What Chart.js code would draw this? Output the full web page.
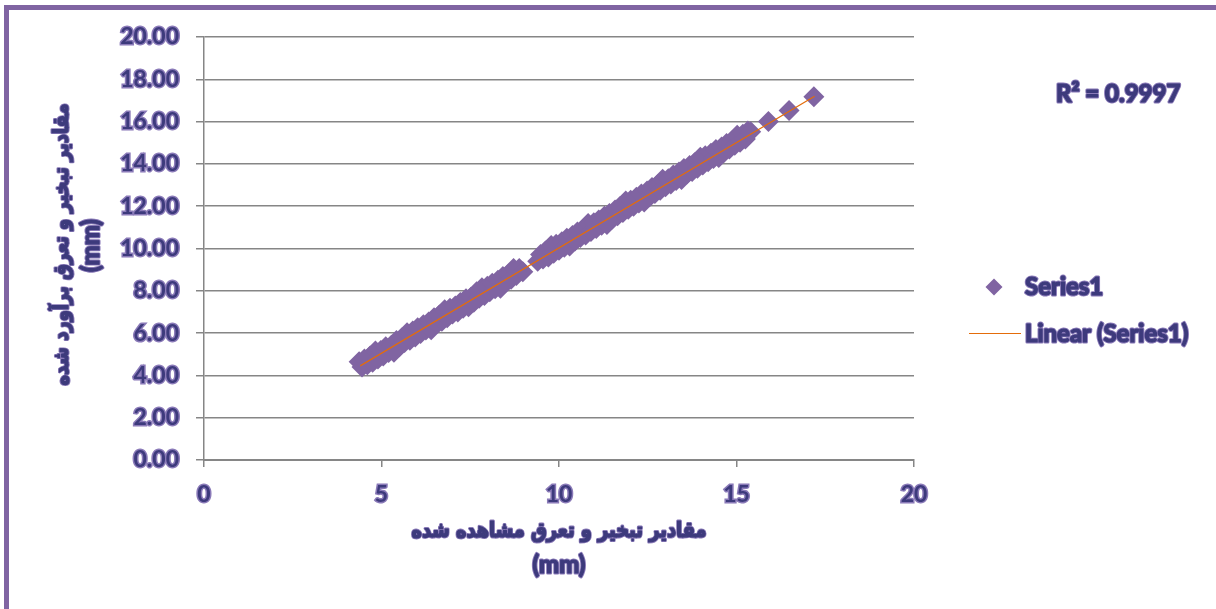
<!DOCTYPE html>
<html>
<head>
<meta charset="utf-8">
<script src="https://cdn.jsdelivr.net/npm/chart.js@4/dist/chart.umd.min.js"></script>
<style>
  html, body { margin: 0; padding: 0; background: #ffffff; }
  canvas { display: block; }
</style>
</head>
<body>
<canvas id="chart" width="1216" height="609"></canvas>
<script>
// Observed evapotranspiration (mm)
const observed = [
  4.37, 4.45, 4.52, 4.60, 4.68, 4.75, 4.83, 4.90, 4.98, 5.05,
  5.12, 5.20, 5.28, 5.35, 5.42, 5.50, 5.58, 5.65, 5.72, 5.80,
  5.88, 5.95, 6.02, 6.10, 6.18, 6.25, 6.33, 6.40, 6.48, 6.55,
  6.63, 6.70, 6.78, 6.85, 6.93, 7.00, 7.08, 7.15, 7.22, 7.30,
  7.38, 7.45, 7.52, 7.60, 7.68, 7.75, 7.83, 7.90, 7.98, 8.05,
  8.12, 8.20, 8.28, 8.35, 8.42, 8.50, 8.58, 8.65, 8.72, 8.80,
  8.88, 8.98,
  9.40, 9.48, 9.55, 9.62, 9.70, 9.78, 9.85, 9.92, 10.00, 10.08,
  10.15, 10.22, 10.30, 10.38, 10.45, 10.52, 10.60, 10.68, 10.75, 10.82,
  10.90, 10.98, 11.05, 11.12, 11.20, 11.28, 11.35, 11.42, 11.50, 11.58,
  11.65, 11.72, 11.80, 11.88, 11.95, 12.02, 12.10, 12.18, 12.25, 12.32,
  12.40, 12.48, 12.55, 12.62, 12.70, 12.78, 12.85, 12.92, 13.00, 13.08,
  13.15, 13.22, 13.30, 13.38, 13.45, 13.52, 13.60, 13.68, 13.75, 13.82,
  13.90, 13.98, 14.05, 14.12, 14.20, 14.28, 14.35, 14.42, 14.50, 14.58,
  14.65, 14.72, 14.80, 14.88, 14.95, 15.02, 15.10, 15.18, 15.25, 15.32,
  15.40, 15.90, 16.48, 17.18
];

// Estimated evapotranspiration (mm)
const estimated = [
  4.65, 4.40, 4.78, 4.50, 4.92, 4.62, 5.15, 4.78, 5.18, 4.92,
  5.35, 5.08, 5.42, 5.10, 5.65, 5.36, 5.78, 5.55, 6.02, 5.66,
  6.10, 5.82, 6.25, 5.98, 6.40, 6.15, 6.52, 6.16, 6.72, 6.45,
  6.85, 6.56, 7.10, 6.72, 7.18, 6.90, 7.28, 7.00, 7.45, 7.18,
  7.62, 7.24, 7.70, 7.46, 7.95, 7.65, 8.15, 7.78, 8.22, 7.95,
  8.36, 8.10, 8.50, 8.12, 8.68, 8.40, 8.80, 8.55, 9.05, 8.72,
  9.05, 8.90,
  9.40, 9.72, 9.50, 9.88, 9.60, 10.14, 9.78, 10.20, 9.92, 10.32,
  10.06, 10.48, 10.12, 10.62, 10.36, 10.78, 10.52, 10.90, 10.64, 11.18,
  10.80, 11.22, 10.95, 11.35, 11.10, 11.52, 11.14, 11.66, 11.40, 11.82,
  11.55, 11.98, 11.70, 12.24, 11.85, 12.28, 12.00, 12.42, 12.15, 12.58,
  12.20, 12.72, 12.45, 12.88, 12.60, 13.02, 12.75, 13.28, 12.92, 13.30,
  13.05, 13.48, 13.22, 13.62, 13.26, 13.78, 13.52, 13.92, 13.64, 14.06,
  13.80, 14.32, 13.95, 14.38, 14.10, 14.50, 14.25, 14.68, 14.30, 14.80,
  14.55, 14.96, 14.70, 15.10, 14.88, 15.36, 15.02, 15.40, 15.18, 15.55,
  15.52, 16.00, 16.52, 17.18
];

// Linear trend line end points
const trendX = [4.40, 17.20];
const trendY = [4.45, 17.20];

const xTickValues = [0, 5, 10, 15, 20];
const yTickValues = [0, 2, 4, 6, 8, 10, 12, 14, 16, 18, 20];

const rSquaredLabel = 'R\u00B2 = 0.9997';
const seriesName = 'Series1';
const trendName = 'Linear (Series1)';
const xTitle = ['مقادیر تبخیر و تعرق مشاهده شده', '(mm)'];
const yTitle = ['مقادیر تبخیر و تعرق برآورد شده', '(mm)'];

const POINT_COLOR = '#8064A2';
const TREND_COLOR = '#E46C0A';
const TEXT_COLOR = '#3d3a7c';
const TEXT_HALO = '#8a7ab8';
const GRID_COLOR = '#868686';
const FONT_FAMILY = "Lato, 'DejaVu Sans', sans-serif";
const ARABIC_FAMILY = "'DejaVu Sans', sans-serif";

const scatterPoints = observed.map((x, i) => ({ x: x, y: estimated[i] }));
const trendPoints = trendX.map((x, i) => ({ x: x, y: trendY[i] }));

function haloText(ctx, txt, x, y, maxWidth) {
  ctx.lineJoin = 'round';
  ctx.lineWidth = 3;
  ctx.strokeStyle = TEXT_HALO;
  if (maxWidth) ctx.strokeText(txt, x, y, maxWidth); else ctx.strokeText(txt, x, y);
  ctx.lineWidth = 1.2;
  ctx.strokeStyle = TEXT_COLOR;
  if (maxWidth) ctx.strokeText(txt, x, y, maxWidth); else ctx.strokeText(txt, x, y);
  ctx.fillStyle = TEXT_COLOR;
  if (maxWidth) ctx.fillText(txt, x, y, maxWidth); else ctx.fillText(txt, x, y);
}

// Frame, axis titles, legend and R² annotation
const decorations = {
  id: 'decorations',
  beforeDraw(chart) {
    const ctx = chart.ctx;
    ctx.save();
    ctx.fillStyle = '#ffffff';
    ctx.fillRect(0, 0, chart.width, chart.height);
    ctx.fillStyle = POINT_COLOR;
    ctx.fillRect(4, 5, 5, chart.height - 5);
    ctx.fillRect(4, 5, chart.width - 4, 5);
    ctx.restore();
  },
  afterDraw(chart) {
    const ctx = chart.ctx;
    const area = chart.chartArea;
    const cx = (area.left + area.right) / 2;
    const cy = (area.top + area.bottom) / 2;
    ctx.save();
    ctx.textBaseline = 'middle';
    ctx.textAlign = 'center';

    // x-axis title
    ctx.font = 'bold 21px ' + ARABIC_FAMILY;
    haloText(ctx, xTitle[0], cx, 532, 295);
    ctx.font = 'bold 24px ' + FONT_FAMILY;
    haloText(ctx, xTitle[1], cx, 565);

    // y-axis title
    ctx.save();
    ctx.translate(63, cy - 4);
    ctx.rotate(-Math.PI / 2);
    ctx.font = 'bold 21px ' + ARABIC_FAMILY;
    haloText(ctx, yTitle[0], 0, 0, 282);
    ctx.restore();
    ctx.save();
    ctx.translate(91, cy - 3);
    ctx.rotate(-Math.PI / 2);
    ctx.font = 'bold 24px ' + FONT_FAMILY;
    haloText(ctx, yTitle[1], 0, 0);
    ctx.restore();

    ctx.textAlign = 'left';
    ctx.font = 'bold 24px ' + FONT_FAMILY;
    haloText(ctx, rSquaredLabel, 1056, 94);

    // legend: marker entry
    const mx = 994, my = 287, r = 8.5;
    ctx.beginPath();
    ctx.moveTo(mx, my - r);
    ctx.lineTo(mx + r, my);
    ctx.lineTo(mx, my + r);
    ctx.lineTo(mx - r, my);
    ctx.closePath();
    ctx.fillStyle = POINT_COLOR;
    ctx.fill();
    haloText(ctx, seriesName, 1025, 287);

    // legend: trend entry
    ctx.beginPath();
    ctx.moveTo(969, 333.5);
    ctx.lineTo(1021, 333.5);
    ctx.strokeStyle = TREND_COLOR;
    ctx.lineWidth = 1;
    ctx.stroke();
    haloText(ctx, trendName, 1025, 334);
    ctx.restore();
  }
};

new Chart(document.getElementById('chart'), {
  type: 'scatter',
  data: {
    datasets: [
      {
        label: trendName,
        type: 'line',
        data: trendPoints,
        borderColor: TREND_COLOR,
        borderWidth: 1.2,
        pointRadius: 0,
        fill: false,
        order: 0
      },
      {
        label: seriesName,
        data: scatterPoints,
        pointStyle: 'rectRot',
        pointRadius: 10.5,
        pointHoverRadius: 10.5,
        backgroundColor: POINT_COLOR,
        borderColor: POINT_COLOR,
        borderWidth: 0,
        order: 1
      }
    ]
  },
  options: {
    responsive: false,
    animation: false,
    events: [],
    layout: { padding: { left: 0, top: 37, right: 302, bottom: 0 } },
    plugins: {
      legend: { display: false },
      tooltip: { enabled: false }
    },
    scales: {
      x: {
        type: 'linear',
        min: 0,
        max: 20,
        afterFit(scale) { scale.height = 149; },
        afterBuildTicks(scale) { scale.ticks = xTickValues.map(v => ({ value: v })); },
        grid: {
          drawOnChartArea: false,
          drawTicks: true,
          tickLength: 7,
          color: GRID_COLOR,
          lineWidth: 1.5
        },
        border: { display: true, color: GRID_COLOR, width: 2 },
        ticks: {
          color: TEXT_COLOR,
          textStrokeColor: TEXT_HALO,
          textStrokeWidth: 3,
          padding: 14,
          maxRotation: 0,
          font: { family: FONT_FAMILY, size: 23, weight: 'bold' }
        },
        title: { display: false }
      },
      y: {
        type: 'linear',
        min: 0,
        max: 20,
        afterFit(scale) { scale.width = 204; },
        afterBuildTicks(scale) { scale.ticks = yTickValues.map(v => ({ value: v })); },
        grid: {
          drawOnChartArea: true,
          drawTicks: true,
          tickLength: 8,
          color: GRID_COLOR,
          lineWidth: 1.5
        },
        border: { display: true, color: GRID_COLOR, width: 1.5 },
        ticks: {
          color: TEXT_COLOR,
          textStrokeColor: TEXT_HALO,
          textStrokeWidth: 3,
          padding: 17,
          font: { family: FONT_FAMILY, size: 23, weight: 'bold' },
          callback: (v) => Number(v).toFixed(2)
        },
        title: { display: false }
      }
    }
  },
  plugins: [decorations]
});
</script>
</body>
</html>
